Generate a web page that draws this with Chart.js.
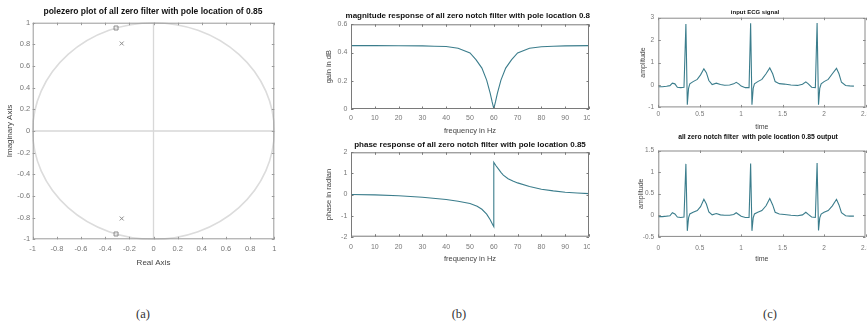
<!DOCTYPE html>
<html lang="en">
<head>
<meta charset="UTF-8">
<title>All zero notch filter figure</title>
<script src="https://cdn.jsdelivr.net/npm/chart.js"></script>
<style>
  body { margin: 0; background: #fff; width: 867px; height: 325px; position: relative; overflow: hidden; }
  .box { position: absolute; }
  .cap { position: absolute; top: 306px; line-height: 16px; font-family: 'Liberation Serif', 'DejaVu Serif', serif; font-size: 12.5px; color: #333; transform: translateX(-50%); }
</style>
</head>
<body>
<div class="box" style="left:0px;top:0px"><canvas id="pzChart" width="290" height="275"></canvas></div>
<div class="box" style="left:290px;top:0px"><canvas id="magChart" width="300" height="140"></canvas></div>
<div class="box" style="left:290px;top:140px"><canvas id="phaseChart" width="300" height="135"></canvas></div>
<div class="box" style="left:600px;top:0px"><canvas id="ecgInChart" width="267" height="134"></canvas></div>
<div class="box" style="left:600px;top:128px"><canvas id="ecgOutChart" width="267" height="140"></canvas></div>
<div class="cap" style="left:143px">(a)</div>
<div class="cap" style="left:459px">(b)</div>
<div class="cap" style="left:770px">(c)</div>

<script>
// ---- data ----
// (a) pole-zero plot
const zeroRe = [-0.31, -0.31];
const zeroIm = [0.951, -0.951];
const poleRe = [-0.263, -0.263];
const poleIm = [0.808, -0.808];
const pzTicks = [-1, -0.8, -0.6, -0.4, -0.2, 0, 0.2, 0.4, 0.6, 0.8, 1];

// (b) magnitude response
const magFreq = [0, 10, 20, 30, 35, 40, 45, 50, 52.5, 55, 57, 58.5, 59.3, 60, 60.7, 61.5, 63, 65, 67.5, 70, 75, 80, 85, 90, 100];
const magGain = [0.449, 0.449, 0.448, 0.447, 0.445, 0.443, 0.43, 0.397, 0.35, 0.29, 0.205, 0.11, 0.05, 0.003, 0.05, 0.11, 0.205, 0.29, 0.35, 0.397, 0.43, 0.441, 0.445, 0.447, 0.449];
const magTicks = [0, 0.2, 0.4, 0.6];

// (b) phase response
const phaseFreq = [0, 10, 20, 30, 40, 45, 50, 53, 55, 57, 58.5, 59.5, 60, 60, 61, 62, 63, 64, 66, 68, 70, 75, 80, 85, 90, 95, 100];
const phaseRad = [0, -0.02, -0.06, -0.13, -0.24, -0.32, -0.43, -0.56, -0.7, -0.93, -1.2, -1.42, -1.52, 1.52, 1.35, 1.2, 1.05, 0.92, 0.75, 0.64, 0.55, 0.38, 0.25, 0.17, 0.11, 0.07, 0.04];
const phaseTicks = [-2, -1, 0, 1, 2];
const freqTicks = [0, 10, 20, 30, 40, 50, 60, 70, 80, 90, 100];

// (c) ECG signals
const ecgTime = [0, 0.05, 0.1, 0.14, 0.17, 0.2, 0.23, 0.27, 0.31, 0.333, 0.35, 0.365, 0.38, 0.42, 0.47, 0.51, 0.55, 0.58, 0.61, 0.65, 0.7, 0.75, 0.8, 0.86, 0.91, 0.94, 0.97, 1.0, 1.05, 1.095, 1.114, 1.13, 1.145, 1.16, 1.2, 1.25, 1.3, 1.345, 1.38, 1.41, 1.46, 1.52, 1.6, 1.68, 1.74, 1.78, 1.81, 1.85, 1.895, 1.916, 1.933, 1.948, 1.965, 2.0, 2.05, 2.1, 2.15, 2.18, 2.21, 2.26, 2.31, 2.36];
const ecgInput = [-0.08, -0.08, -0.06, -0.03, 0.08, 0.05, -0.1, -0.12, -0.1, 2.72, -0.88, -0.15, 0.05, 0.15, 0.25, 0.45, 0.72, 0.55, 0.2, 0.02, 0.08, 0.02, -0.01, 0, 0.05, 0.12, 0.05, -0.05, -0.12, -0.12, 2.75, -0.88, -0.15, 0.05, 0.15, 0.25, 0.5, 0.76, 0.5, 0.15, 0.06, 0.04, 0, -0.02, 0.03, 0.14, 0.05, -0.1, -0.12, 2.76, -0.88, -0.15, 0.05, 0.15, 0.25, 0.5, 0.74, 0.5, 0.12, -0.02, -0.04, -0.05];
const ecgOutput = [-0.03, -0.03, -0.02, -0.01, 0.06, 0.03, -0.04, -0.05, -0.04, 1.19, -0.36, -0.06, 0.03, 0.07, 0.11, 0.2, 0.37, 0.26, 0.08, 0.01, 0.04, 0.01, 0, 0, 0.02, 0.06, 0.02, -0.02, -0.05, -0.05, 1.2, -0.36, -0.06, 0.03, 0.07, 0.11, 0.22, 0.39, 0.24, 0.07, 0.03, 0.02, 0, -0.01, 0.01, 0.07, 0.02, -0.04, -0.05, 1.21, -0.35, -0.06, 0.03, 0.07, 0.11, 0.22, 0.37, 0.24, 0.06, -0.01, -0.02, -0.02];
const timeTicks = [0, 0.5, 1, 1.5, 2, 2.5];
const ecgInTicks = [-1, 0, 1, 2, 3];
const ecgOutTicks = [-0.5, 0, 0.5, 1, 1.5];

// ---- styling ----
const SANS = "'Liberation Sans', Arial, sans-serif";
const LINE = '#3b7d8c';

// frame with inward ticks + panel title, MATLAB style
const panelPlugin = {
    id: 'panel',
    afterDatasetsDraw(chart, args, opts) {
        const { ctx, chartArea: a } = chart;
        ctx.save();
        ctx.strokeStyle = opts.frame || '#8a8a8a';
        ctx.lineWidth = 1;
        ctx.strokeRect(a.left + 0.5, a.top + 0.5, a.right - a.left - 1, a.bottom - a.top - 1);
        const tl = 2.5;
        ctx.beginPath();
        chart.scales.x.ticks.forEach(t => {
            const px = Math.round(chart.scales.x.getPixelForValue(t.value)) + 0.5;
            ctx.moveTo(px, a.bottom); ctx.lineTo(px, a.bottom - tl);
            ctx.moveTo(px, a.top); ctx.lineTo(px, a.top + tl);
        });
        chart.scales.y.ticks.forEach(t => {
            const py = Math.round(chart.scales.y.getPixelForValue(t.value)) + 0.5;
            ctx.moveTo(a.left, py); ctx.lineTo(a.left + tl, py);
            ctx.moveTo(a.right, py); ctx.lineTo(a.right - tl, py);
        });
        ctx.stroke();
        ctx.fillStyle = '#111';
        ctx.font = opts.font;
        ctx.textAlign = 'center';
        ctx.textBaseline = 'middle';
        ctx.fillText(opts.text, opts.x, opts.y);
        ctx.restore();
    }
};

// unit circle and zero lines for the pole-zero plot
const unitCircle = {
    id: 'unitCircle',
    beforeDatasetsDraw(chart) {
        const { ctx, chartArea: a } = chart;
        const xs = chart.scales.x, ys = chart.scales.y;
        const cx = xs.getPixelForValue(0), cy = ys.getPixelForValue(0);
        ctx.save();
        ctx.strokeStyle = '#d8d8d8';
        ctx.lineWidth = 1.3;
        ctx.beginPath();
        ctx.moveTo(cx, a.top); ctx.lineTo(cx, a.bottom);
        ctx.moveTo(a.left, cy); ctx.lineTo(a.right, cy);
        ctx.stroke();
        ctx.lineWidth = 1.6;
        ctx.strokeStyle = '#dcdcdc';
        ctx.beginPath();
        ctx.ellipse(cx, cy, xs.getPixelForValue(1) - cx, cy - ys.getPixelForValue(1), 0, 0, Math.PI * 2);
        ctx.stroke();
        ctx.restore();
    }
};

// builds scale options so the plot box lands where it is in the figure
function axes(g) {
    const tickFont = { family: g.family, size: g.tickSize };
    const titleFont = { family: g.family, size: g.titleSize, lineHeight: 1.2 };
    const lh = g.titleSize * 1.2;
    return {
        x: {
            type: 'linear', min: g.xTicks[0], max: g.xTicks[g.xTicks.length - 1],
            afterBuildTicks: s => { s.ticks = g.xTicks.map(v => ({ value: v })); },
            afterFit: s => { s.height = g.T + g.H - g.y1; s.paddingLeft = 0; s.paddingRight = 0; },
            grid: { display: false, drawTicks: false },
            border: { display: false },
            ticks: { autoSkip: false, maxRotation: 0, minRotation: 0, padding: g.xPad, color: '#777', font: tickFont, callback: v => String(v) },
            title: { display: true, text: g.xTitle, color: '#444', font: titleFont, padding: { top: 0, bottom: (g.T + g.H - g.xTitleY) - lh / 2 } }
        },
        y: {
            type: 'linear', min: g.yTicks[0], max: g.yTicks[g.yTicks.length - 1],
            afterBuildTicks: s => { s.ticks = g.yTicks.map(v => ({ value: v })); },
            afterFit: s => { s.width = g.x0 - g.L; s.paddingTop = 0; s.paddingBottom = 0; },
            grid: { display: false, drawTicks: false },
            border: { display: false },
            ticks: { autoSkip: false, padding: g.yPad, color: '#777', font: tickFont, callback: v => String(v) },
            title: { display: true, text: g.yTitle, color: '#444', font: titleFont, padding: { top: (g.yTitleX - g.L) - lh / 2, bottom: 0 } }
        }
    };
}

function makeChart(id, type, datasets, g, extraPlugins) {
    return new Chart(document.getElementById(id), {
        type: type,
        data: { datasets: datasets },
        options: {
            responsive: false,
            animation: false,
            events: [],
            layout: { padding: { left: 0, bottom: 0, top: g.y0 - g.T, right: g.L + g.W - g.x1 } },
            scales: axes(g),
            plugins: {
                legend: { display: false },
                tooltip: { enabled: false },
                panel: { text: g.title, x: g.titleX - g.L, y: g.titleY - g.T, font: g.titleFont, frame: g.frame }
            }
        },
        plugins: [panelPlugin].concat(extraPlugins || [])
    });
}

const pts = (xs, ys) => xs.map((x, i) => ({ x: x, y: ys[i] }));
const lineSet = (xs, ys) => ({ data: pts(xs, ys), borderColor: LINE, borderWidth: 1.1, pointRadius: 0, tension: 0, fill: false });

// (a)
makeChart('pzChart', 'scatter', [
    { data: pts(zeroRe, zeroIm), pointStyle: 'rect', radius: 2.8, borderColor: '#8a8a8a', backgroundColor: 'rgba(0,0,0,0)', borderWidth: 1 },
    { data: pts(poleRe, poleIm), pointStyle: 'crossRot', radius: 2.8, borderColor: '#8a8a8a', borderWidth: 1 }
], {
    L: 0, T: 0, W: 290, H: 275, x0: 32.7, x1: 274.3, y0: 22.7, y1: 239.3,
    title: 'polezero plot of all zero filter with pole location of 0.85', titleX: 153, titleY: 12, titleFont: 'bold 8.5px ' + SANS,
    xTicks: pzTicks, yTicks: pzTicks, xTitle: 'Real Axis', yTitle: 'Imaginary Axis', xTitleY: 262.3, yTitleX: 9.3,
    xPad: 5, yPad: 2.5, family: SANS, tickSize: 7.5, titleSize: 8, frame: '#9a9a9a'
}, [unitCircle]);

// (b) magnitude
makeChart('magChart', 'line', [lineSet(magFreq, magGain)], {
    L: 290, T: 0, W: 300, H: 140, x0: 351, x1: 589, y0: 24.3, y1: 109,
    title: 'magnitude response of all zero notch filter with pole location 0.85', titleX: 470, titleY: 15.7, titleFont: 'bold 8px ' + SANS,
    xTicks: freqTicks, yTicks: magTicks, xTitle: 'frequency in Hz', yTitle: 'gain in dB', xTitleY: 130.7, yTitleX: 329,
    xPad: 4.8, yPad: 3.7, family: SANS, tickSize: 7, titleSize: 7.5, frame: '#7a7a7a'
});

// (b) phase
makeChart('phaseChart', 'line', [lineSet(phaseFreq, phaseRad)], {
    L: 290, T: 140, W: 300, H: 135, x0: 351, x1: 589, y0: 152.3, y1: 236.7,
    title: 'phase response of all zero notch filter with pole location 0.85', titleX: 470, titleY: 145, titleFont: 'bold 8px ' + SANS,
    xTicks: freqTicks, yTicks: phaseTicks, xTitle: 'frequency in Hz', yTitle: 'phase in radian', xTitleY: 259, yTitleX: 329,
    xPad: 6.3, yPad: 3.7, family: SANS, tickSize: 7, titleSize: 7.5, frame: '#7a7a7a'
});

// (c) input ECG
makeChart('ecgInChart', 'line', [lineSet(ecgTime, ecgInput)], {
    L: 600, T: 0, W: 267, H: 134, x0: 658.3, x1: 865.5, y0: 17.7, y1: 107.4,
    title: 'input ECG signal', titleX: 755, titleY: 12.3, titleFont: 'bold 6px ' + SANS,
    xTicks: timeTicks, yTicks: ecgInTicks, xTitle: 'time', yTitle: 'amplitude', xTitleY: 126.7, yTitleX: 643.3,
    xPad: 2.6, yPad: 4.3, family: SANS, tickSize: 6.5, titleSize: 7, frame: '#8a8a8a'
});

// (c) filtered ECG
makeChart('ecgOutChart', 'line', [lineSet(ecgTime, ecgOutput)], {
    L: 600, T: 128, W: 267, H: 140, x0: 658.3, x1: 865.5, y0: 150.5, y1: 236.9,
    title: 'all zero notch filter  with pole location 0.85 output', titleX: 758, titleY: 137.3, titleFont: 'bold 6.8px ' + SANS,
    xTicks: timeTicks, yTicks: ecgOutTicks, xTitle: 'time', yTitle: 'amplitude', xTitleY: 259.3, yTitleX: 641.5,
    xPad: 7, yPad: 4.3, family: SANS, tickSize: 6.5, titleSize: 7, frame: '#8a8a8a'
});
</script>
</body>
</html>
